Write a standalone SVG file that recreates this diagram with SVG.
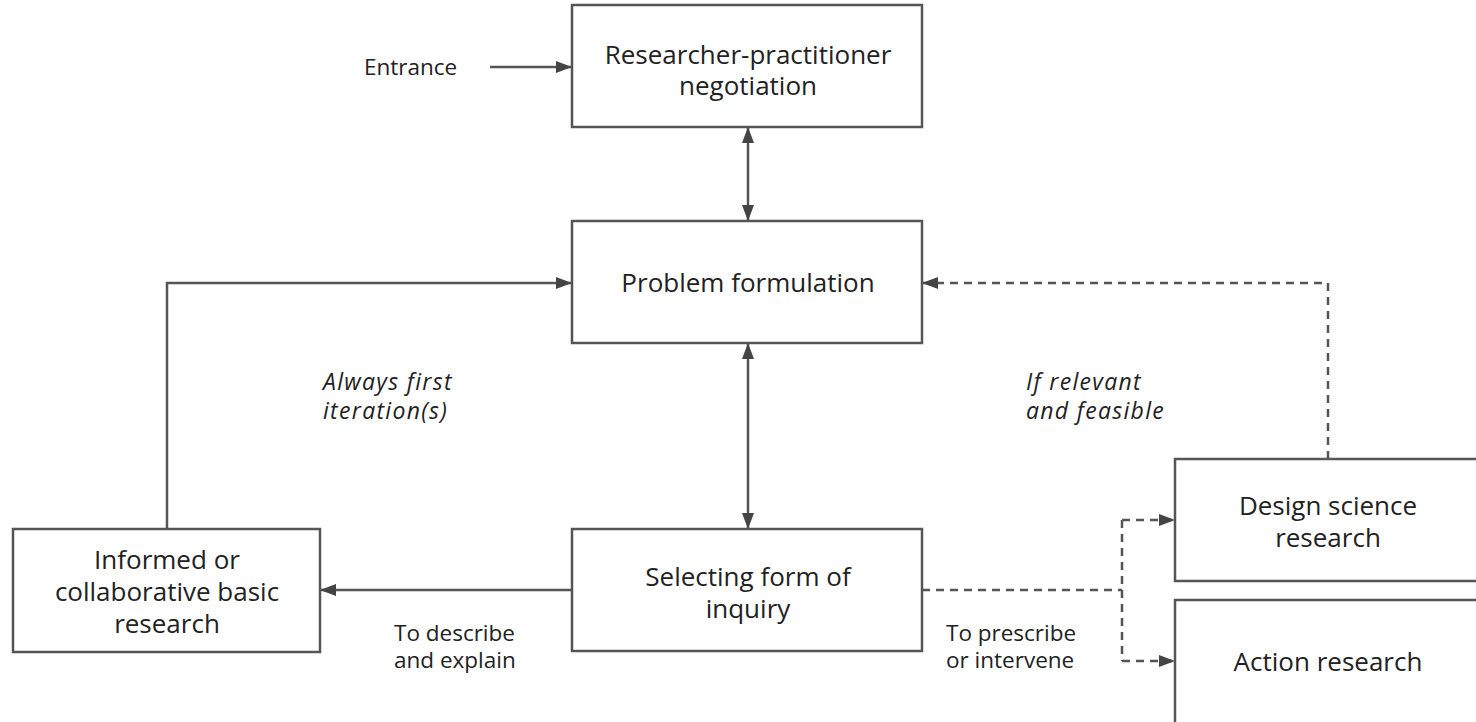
<svg xmlns="http://www.w3.org/2000/svg" width="1476" height="722" viewBox="0 0 1476 722">
<style>
.box{fill:#fff;stroke:#555;stroke-width:2.5}
.t{font-family:"Open Sans","Noto Sans",sans-serif;font-size:26px;fill:#222;text-anchor:middle}
.l{font-family:"Open Sans","Noto Sans",sans-serif;font-size:22.5px;fill:#222}
.i{font-style:italic;font-size:23px;letter-spacing:1.3px}
.c{fill:none;stroke:#555;stroke-width:2.5}
.d{stroke-dasharray:8 6}
</style>
<defs>
<marker id="ah" viewBox="0 0 16 12" refX="16" refY="6" markerWidth="16" markerHeight="12" markerUnits="userSpaceOnUse" orient="auto-start-reverse">
<path d="M0,0 L16,6 L0,12 Z" fill="#444"/>
</marker>
</defs>
<rect width="1476" height="722" fill="#fff"/>
<g id="connectors">
<path class="c" d="M490,67 H572" marker-end="url(#ah)"/>
<path class="c" d="M748,127 V221" marker-start="url(#ah)" marker-end="url(#ah)"/>
<path class="c" d="M748,343 V529" marker-start="url(#ah)" marker-end="url(#ah)"/>
<path class="c" d="M167,529 V283 H572" marker-end="url(#ah)"/>
<path class="c" d="M572,590 H320" marker-end="url(#ah)"/>
<path class="c d" d="M922,590 H1122"/>
<path class="c d" d="M1122,520 V661"/>
<path class="c d" d="M1122,520 H1175" marker-end="url(#ah)"/>
<path class="c d" d="M1122,661 H1175" marker-end="url(#ah)"/>
<path class="c d" d="M1328,459 V283 H922" marker-end="url(#ah)"/>
</g>
<g id="n-negotiation">
<rect class="box" x="572" y="5" width="350" height="122"/>
<text class="t" x="748" y="64">Researcher-practitioner</text>
<text class="t" x="748" y="95">negotiation</text>
</g>
<g id="n-problem">
<rect class="box" x="572" y="221" width="350" height="122"/>
<text class="t" x="748" y="292">Problem formulation</text>
</g>
<g id="n-selecting">
<rect class="box" x="572" y="529" width="350" height="122"/>
<text class="t" x="748" y="586">Selecting form of</text>
<text class="t" x="748" y="618">inquiry</text>
</g>
<g id="n-basic">
<rect class="box" x="13" y="529" width="307" height="123"/>
<text class="t" x="167" y="569">Informed or</text>
<text class="t" x="167" y="601">collaborative basic</text>
<text class="t" x="167" y="633">research</text>
</g>
<g id="n-design">
<rect class="box" x="1175" y="459" width="310" height="122"/>
<text class="t" x="1328" y="515">Design science</text>
<text class="t" x="1328" y="547">research</text>
</g>
<g id="n-action">
<rect class="box" x="1175" y="600" width="310" height="130"/>
<text class="t" x="1328" y="671">Action research</text>
</g>
<g id="labels">
<text class="l" x="364" y="75">Entrance</text>
<text class="l i" x="323" y="390">Always first</text>
<text class="l i" x="323" y="419">iteration(s)</text>
<text class="l i" x="1026" y="390">If relevant</text>
<text class="l i" x="1026" y="419">and feasible</text>
<text class="l" x="394" y="641">To describe</text>
<text class="l" x="394" y="668">and explain</text>
<text class="l" x="946" y="641">To prescribe</text>
<text class="l" x="946" y="668">or intervene</text>
</g>
</svg>
